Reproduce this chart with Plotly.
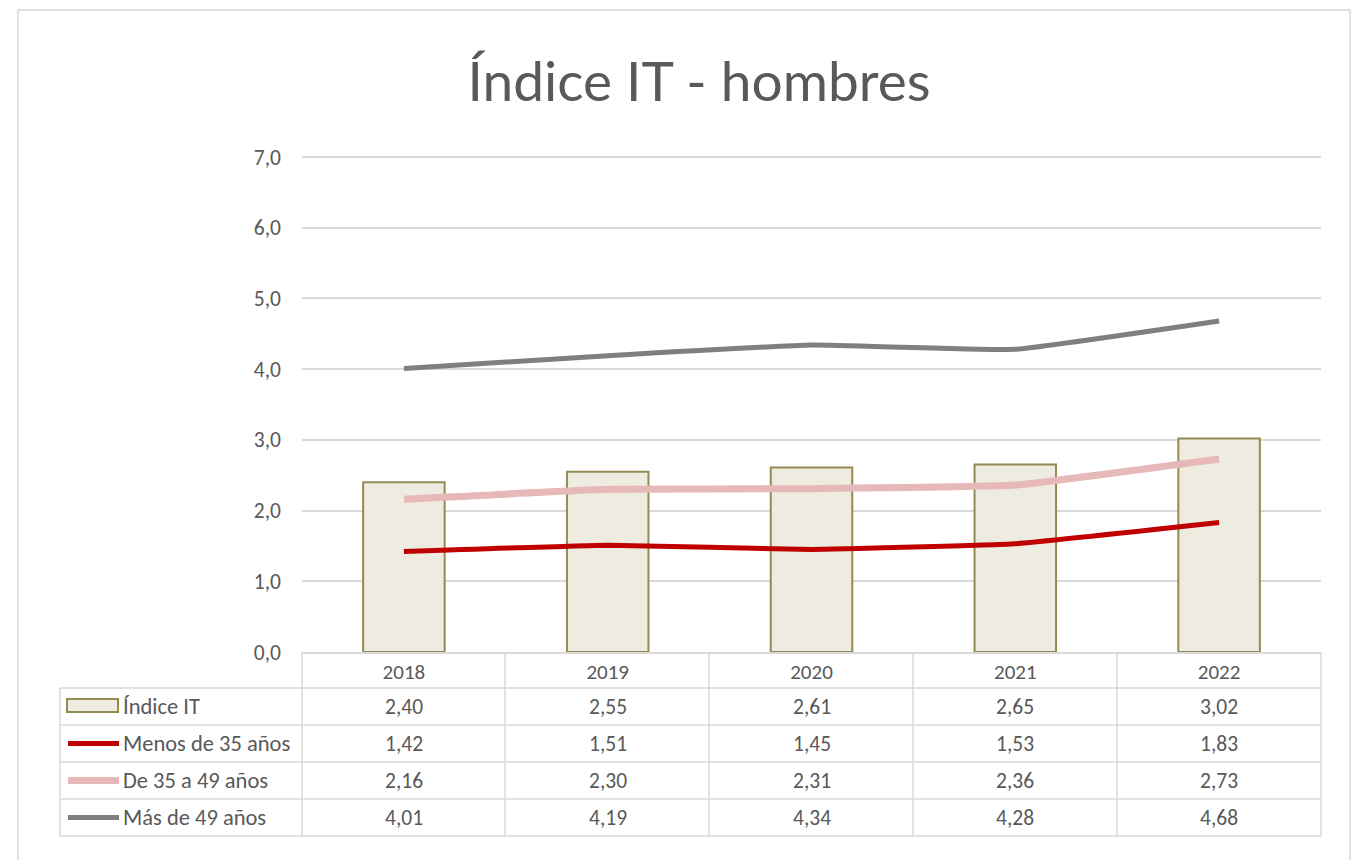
import plotly.graph_objects as go

# ---------------- data ----------------
years = ["2018", "2019", "2020", "2021", "2022"]
indice_it = [2.40, 2.55, 2.61, 2.65, 3.02]
menos_35 = [1.42, 1.51, 1.45, 1.53, 1.83]
de_35_49 = [2.16, 2.30, 2.31, 2.36, 2.73]
mas_49 = [4.01, 4.19, 4.34, 4.28, 4.68]
series_names = ["Índice IT", "Menos de 35 años", "De 35 a 49 años", "Más de 49 años"]
y_ticks = [0, 1, 2, 3, 4, 5, 6, 7]

TXT = "#595959"
GRID = "#D9D9D9"
FONT = "Carlito, Lato, 'Liberation Sans', sans-serif"

# ---------------- geometry (page pixels; page has 8px body margin) ----------------
W, H = 1347, 852
L, R, T, B = 294, 34, 147, 208
PW, PH = W - L - R, H - T - B
Y_TOP = 7 * PH / 495.0  # keep the 7,0 gridline just inside the plot area


def fx(X):
    return (X - 8 - L) / PW


def fy(Y):
    return 1 - (Y - 8 - T) / PH


fig = go.Figure()

fig.add_trace(go.Bar(
    x=years, y=indice_it, name=series_names[0],
    marker=dict(color="#EEECE1", line=dict(color="#948A54", width=2)),
    width=0.40, hoverinfo="y",
))
line_styles = [
    (menos_35, series_names[1], "#C00000", 5),
    (de_35_49, series_names[2], "#E6B8B7", 7),
    (mas_49, series_names[3], "#7F7F7F", 5),
]
for vals, nm, col, w in line_styles:
    fig.add_trace(go.Scatter(
        x=years, y=vals, name=nm, mode="lines",
        line=dict(color=col, width=w, shape="spline", smoothing=0.3),
    ))

shapes = []
annotations = []

# outer chart border
shapes.append(dict(type="rect", xref="paper", yref="paper",
                   x0=fx(18), x1=fx(1350), y0=fy(880), y1=fy(10),
                   line=dict(color=GRID, width=1.5), layer="below"))

# table grid
col_edges = [302, 505, 709, 913, 1117, 1321]
row_edges = [688, 725, 762, 799, 836]
for xe in col_edges:
    shapes.append(dict(type="line", xref="paper", yref="paper",
                       x0=fx(xe), x1=fx(xe), y0=fy(652), y1=fy(836),
                       line=dict(color=GRID, width=1.5)))
shapes.append(dict(type="line", xref="paper", yref="paper",
                   x0=fx(60), x1=fx(60), y0=fy(688), y1=fy(836),
                   line=dict(color=GRID, width=1.5)))
for ye in row_edges:
    shapes.append(dict(type="line", xref="paper", yref="paper",
                       x0=fx(60), x1=fx(1321), y0=fy(ye), y1=fy(ye),
                       line=dict(color=GRID, width=1.5)))

# legend keys in table
row_centers = [(row_edges[i] + row_edges[i + 1]) / 2 for i in range(4)]
shapes.append(dict(type="rect", xref="paper", yref="paper",
                   x0=fx(67), x1=fx(118), y0=fy(712), y1=fy(699),
                   fillcolor="#EEECE1", line=dict(color="#948A54", width=2)))
for (vals, nm, col, w), yc in zip(line_styles, row_centers[1:]):
    shapes.append(dict(type="line", xref="paper", yref="paper",
                       x0=fx(68), x1=fx(119), y0=fy(yc), y1=fy(yc),
                       line=dict(color=col, width=w)))

for nm, yc in zip(series_names, row_centers):
    annotations.append(dict(xref="paper", yref="paper", x=fx(121), y=fy(yc),
                            text=nm, showarrow=False, xanchor="left", yanchor="middle",
                            font=dict(size=22.5, color=TXT, family=FONT)))

all_vals = [indice_it, menos_35, de_35_49, mas_49]
for vals, yc in zip(all_vals, row_centers):
    for i, v in enumerate(vals):
        annotations.append(dict(xref="x", yref="paper", x=i, y=fy(yc),
                                text=f"{v:.2f}".replace(".", ","), showarrow=False,
                                xanchor="center", yanchor="middle",
                                font=dict(size=21.5, color=TXT, family=FONT)))

fig.update_layout(
    width=W, height=H, autosize=False,
    margin=dict(l=L, r=R, t=T, b=B, pad=0),
    paper_bgcolor="white", plot_bgcolor="white",
    showlegend=False,
    separators=", ",
    font=dict(family=FONT, color=TXT),
    title=dict(text="Índice IT - hombres", x=fx(699), y=1 - (82 - 8) / H,
               xanchor="center", yanchor="middle", xref="paper",
               font=dict(size=55, color=TXT, family="Lato, sans-serif")),
    shapes=shapes,
    annotations=annotations,
)
fig.update_yaxes(range=[0, Y_TOP], autorange=False, tickvals=y_ticks, tickformat=".1f",
                 showgrid=True, gridcolor=GRID, gridwidth=1.5,
                 zeroline=False, showline=False, ticks="",
                 ticklabelstandoff=20,
                 tickfont=dict(size=21.5, color=TXT, family=FONT))
fig.update_xaxes(type="category", range=[-0.5, 4.5], autorange=False,
                 showgrid=False, showline=True, linecolor=GRID,
                 linewidth=1.5, ticks="", ticklabelstandoff=0,
                 tickfont=dict(size=21, color=TXT, family=FONT))

fig.write_html("out.html")
